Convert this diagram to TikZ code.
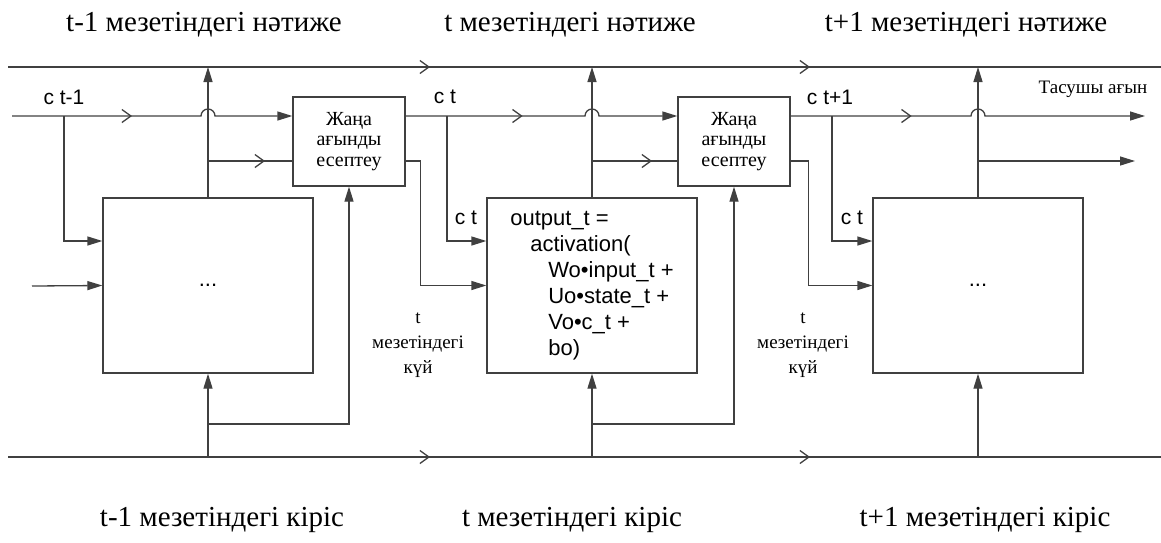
\documentclass[tikz,border=0pt]{standalone}
\usepackage{fontspec}
\setmainfont{Liberation Serif}
\setsansfont{Liberation Sans}
\usetikzlibrary{arrows.meta,decorations.markings,calc}

\tikzset{
  wire/.style={draw=black!75,line width=1.3pt},
  tip/.style={-{Triangle[length=15pt,width=9pt]}},
  chev/.style={postaction={decorate,decoration={markings,
      mark=at position #1 with {\arrow{Straight Barb[length=9pt,width=13pt,line width=1.3pt]}}}}},
  cell/.style={draw=black!75,line width=1.3pt,minimum width=210pt,minimum height=175pt,
      inner sep=0pt,font=\sffamily\fontsize{22}{26}\selectfont},
  newflow/.style={draw=black!75,line width=1.3pt,minimum width=112pt,minimum height=89pt,
      inner sep=0pt,align=center,font=\fontsize{20}{20.5}\selectfont},
  lbl/.style={font=\fontsize{29}{32}\selectfont},
  note/.style={align=center,font=\fontsize{19}{25}\selectfont},
  clbl/.style={font=\sffamily\fontsize{21}{24}\selectfont}
}

\begin{document}
\begin{tikzpicture}[x=1pt,y=-1pt]
   \useasboundingbox (0,0) rectangle (1161,542);

   \foreach \n/\s/\x/\xx in {A/t-1/204/222,B/t/570/572,C/t+1/966/985}{
   \node[lbl] (out\n) at (\x,25) {\s\ мезетіндегі нәтиже};
   \node[lbl] (in\n) at (\xx,520) {\s\ мезетіндегі кіріс};
   }

   \node[cell] (cellA) at (208,285.5) {...};
   \node[cell] (cellB) at (592,285.5) {\begin{tabular}{@{}l@{}}
      output\_t =\\
      \hspace*{20pt}activation(\\
      \hspace*{38pt}Wo•input\_t +\\
      \hspace*{38pt}Uo•state\_t +\\
      \hspace*{38pt}Vo•c\_t +\\
      \hspace*{38pt}bo)
      \end{tabular}};
   \node[cell] (cellC) at (978,285.5) {...};

   \node[newflow] (calcA) at (349,141.5) {Жаңа\\ағынды\\есептеу};
   \node[newflow] (calcB) at (734,141.5) {Жаңа\\ағынды\\есептеу};

   \node[clbl] (cA) at (64,97) {c t-1};
   \node[clbl] (cB) at (445,97) {c t};
   \node[clbl] (cC) at (830,97) {c t+1};
   \node[clbl] (ctB) at (466,218) {c t};
   \node[clbl] (ctC) at (852,218) {c t};
   \node[note] (stB) at (418,345) {t\\мезетіндегі\\күй};
   \node[note] (stC) at (803,345) {t\\мезетіндегі\\күй};
   \node[font=\fontsize{19}{20}\selectfont] (carry) at (1093,89) {Тасушы ағын};

   \coordinate (topL) at (8,67);
   \coordinate (topR) at (1161,67);
   \coordinate (botL) at (8,457);
   \coordinate (botR) at (1161,457);
   \coordinate (carry0) at (12,116);
   \coordinate (inA) at (32,286);
   \coordinate (brA) at (64,116);
   \coordinate (brB) at (447,116);
   \coordinate (brC) at (832,116);
   \coordinate (hidA) at (208,161);
   \coordinate (hidB) at (592,161);
   \coordinate (hidC) at (978,161);
   \coordinate (bsA) at (208,424);
   \coordinate (bsB) at (592,424);
   \coordinate (carryEnd) at (1145,116);
   \coordinate (hidEnd) at (1135,161);

   % time lines
   \draw[wire,chev=422pt,chev=802pt] (topL) -- (topR);
   \draw[wire,chev=422pt,chev=802pt] (botL) -- (botR);

   % carry flow
   \draw[wire,tip,chev=120pt] (carry0) -- ($(cellA.north|-carry0)-(7pt,0)$)
      arc[start angle=180,end angle=0,radius=7pt] -- (calcA.west|-carry0);
   \draw[wire,tip,chev=117pt] (calcA.east|-carry0) -- ($(cellB.north|-carry0)-(7pt,0)$)
      arc[start angle=180,end angle=0,radius=7pt] -- (calcB.west|-carry0);
   \draw[wire,tip,chev=121pt] (calcB.east|-carry0) -- ($(cellC.north|-carry0)-(7pt,0)$)
      arc[start angle=180,end angle=0,radius=7pt] -- (carryEnd);

   \draw[wire,tip] (brA) |- ([yshift=44.5pt]cellA.west);
   \draw[wire,tip] (brB) |- ([yshift=44.5pt]cellB.west);
   \draw[wire,tip] (brC) |- ([yshift=44.5pt]cellC.west);
   \draw[wire,tip] (inA) -- (cellA.west);
   \draw[wire,tip] ([yshift=-19.5pt]calcA.east) -- ++(15pt,0) |- (cellB.west);
   \draw[wire,tip] ([yshift=-19.5pt]calcB.east) -- ++(18pt,0) |- (cellC.west);

   \foreach \c in {A,B,C}{
   \draw[wire,tip] (cell\c.north) -- (cell\c.north|-topL);
   \draw[wire,tip] (cell\c.south|-botL) -- (cell\c.south);
   }
   \draw[wire,chev=57pt] (hidA) -- (calcA.west|-hidA);
   \draw[wire,chev=60pt] (hidB) -- (calcB.west|-hidB);
   \draw[wire,tip] (hidC) -- (hidEnd);
   \draw[wire,tip] (bsA) -| (calcA.south);
   \draw[wire,tip] (bsB) -| (calcB.south);
\end{tikzpicture}
\end{document}
